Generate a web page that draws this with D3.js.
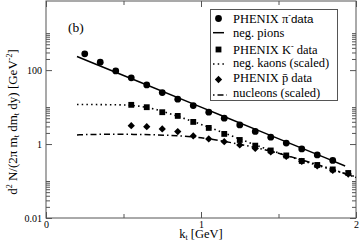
<!DOCTYPE html>
<html><head><meta charset="utf-8">
<script src="https://cdn.jsdelivr.net/npm/d3@7"></script>
<style>
html,body{margin:0;padding:0;background:#fff;}
svg{display:block;}
text{font-family:"Liberation Serif","Times New Roman",serif;fill:#000;}
</style></head>
<body>
<svg id="c" width="360" height="248"></svg>
<script>
// ---- data ----
const ktPion = [0.25,0.35,0.45,0.55,0.65,0.75,0.85,0.95,1.05,1.15,1.25,1.35,1.45,1.55,1.65,1.75,1.85];
const pionData = [275,164,95.3,61.7,39.8,24.7,16.3,11.0,7.27,5.0,3.30,2.20,1.53,1.06,0.738,0.507,0.361];
const ktHadron = [0.55,0.65,0.75,0.85,0.95,1.05,1.15,1.25,1.35,1.45,1.55,1.65,1.75,1.85,1.95];
const kaonData = [11.5,9.93,7.27,5.77,3.97,2.73,1.88,1.29,0.906,0.671,0.492,0.349,0.272,0.206,0.165];
const protonData = [3.15,2.96,2.57,2.17,1.66,1.38,1.16,0.946,0.76,0.612,0.462,0.339,0.256,0.193,0.155];
const ktPionModel = [0.2,0.6,1.0,1.4,1.8,1.93];
const pionModel = [233,48.3,10.0,2.07,0.43,0.256];
const ktKaonModel = [0.2,0.3,0.4,0.5,0.6,0.7,0.8,0.9,1.0,1.2,1.4,1.6,1.8,2.0];
const kaonModel = [11.7,11.7,11.6,11.4,10.6,8.8,6.6,4.8,3.4,1.65,0.80,0.42,0.23,0.13];
const ktNucleonModel = [0.2,0.4,0.6,0.8,1.0,1.2,1.4,1.6,1.8,2.0];
const nucleonModel = [1.77,1.84,1.82,1.71,1.48,1.08,0.72,0.43,0.24,0.125];
const xMajorTicks = [0,1,2];
const xMinorTicks = [0.5,1.5];
const yMajorTicks = [0.01,1,100];
const yMinorDecades = [0.01,1,100];

// ---- layout ----
const L=46, R=356, T=1, B=218;
const svg = d3.select("#c");
const x = d3.scaleLinear().domain([0,2]).range([L,R]);
const y = d3.scaleLog().domain([0.01,7400]).range([B,T]);
const yMinor = [];
yMinorDecades.forEach(d=>{ for(let m=2;m<=10;m++) yMinor.push(d*m); });
const frameCol = "#555";

function style(g){ g.select(".domain").remove(); g.selectAll(".tick line").attr("stroke",frameCol); g.selectAll("text").attr("font-size",10).attr("font-family","Liberation Serif"); }

// bottom
svg.append("g").attr("transform",`translate(0,${B})`)
  .call(d3.axisBottom(x).tickValues(xMajorTicks).tickFormat(d3.format("d")).tickSizeInner(-6).tickSizeOuter(0).tickPadding(3)).call(style);
svg.append("g").attr("transform",`translate(0,${B})`)
  .call(d3.axisBottom(x).tickValues(xMinorTicks).tickFormat("").tickSizeInner(-4).tickSizeOuter(0)).call(style);
// top
svg.append("g").attr("transform",`translate(0,${T})`)
  .call(d3.axisTop(x).tickValues(xMajorTicks).tickFormat("").tickSizeInner(-6).tickSizeOuter(0)).call(style);
svg.append("g").attr("transform",`translate(0,${T})`)
  .call(d3.axisTop(x).tickValues(xMinorTicks).tickFormat("").tickSizeInner(-4).tickSizeOuter(0)).call(style);
// left
svg.append("g").attr("transform",`translate(${L},0)`)
  .call(d3.axisLeft(y).tickValues(yMajorTicks).tickFormat(d=>d===0.01?"0.01":d3.format("d")(d)).tickSizeInner(-6).tickSizeOuter(0).tickPadding(4)).call(style);
svg.append("g").attr("transform",`translate(${L},0)`)
  .call(d3.axisLeft(y).tickValues(yMinor).tickFormat("").tickSizeInner(-4).tickSizeOuter(0)).call(style);
// right
svg.append("g").attr("transform",`translate(${R},0)`)
  .call(d3.axisRight(y).tickValues(yMajorTicks).tickFormat("").tickSizeInner(-6).tickSizeOuter(0)).call(style);
svg.append("g").attr("transform",`translate(${R},0)`)
  .call(d3.axisRight(y).tickValues(yMinor).tickFormat("").tickSizeInner(-4).tickSizeOuter(0)).call(style);

svg.append("rect").attr("x",L).attr("y",T).attr("width",R-L).attr("height",B-T)
  .attr("fill","none").attr("stroke",frameCol).attr("stroke-width",1);

// curves
const line = d3.line().x(d=>x(d[0])).y(d=>y(d[1])).curve(d3.curveMonotoneX);
const zip = (a,b)=>a.map((v,i)=>[v,b[i]]);
const plot = svg.append("g");
plot.append("path").datum(zip(ktPionModel,pionModel)).attr("d",line).attr("fill","none").attr("stroke","#000").attr("stroke-width",1.5);
plot.append("path").datum(zip(ktKaonModel,kaonModel)).attr("d",line).attr("fill","none").attr("stroke","#000").attr("stroke-width",1.6).attr("stroke-dasharray","1.5,3.2");
plot.append("path").datum(zip(ktNucleonModel,nucleonModel)).attr("d",line).attr("fill","none").attr("stroke","#000").attr("stroke-width",1.5).attr("stroke-dasharray","6,3,1.5,3");

// markers
const sym = {
  circle: d3.symbol().type(d3.symbolCircle).size(36),
  square: d3.symbol().type(d3.symbolSquare).size(34),
  diamond: d3.symbol().type(d3.symbolDiamond2).size(34)
};
plot.selectAll(".pi").data(zip(ktPion,pionData)).join("path")
  .attr("transform",d=>`translate(${x(d[0])},${y(d[1])})`).attr("d",sym.circle()).attr("fill","#000");
plot.selectAll(".k").data(zip(ktHadron,kaonData)).join("path")
  .attr("transform",d=>`translate(${x(d[0])},${y(d[1])})`).attr("d",sym.square()).attr("fill","#000");
plot.selectAll(".p").data(zip(ktHadron,protonData)).join("path")
  .attr("transform",d=>`translate(${x(d[0])},${y(d[1])})`).attr("d",sym.diamond()).attr("fill","#000");

// panel label
svg.append("text").attr("x",68).attr("y",31.5).attr("font-size",13.5).text("(b)");

// legend
const lg = svg.append("g");
lg.append("rect").attr("x",210.5).attr("y",9.5).attr("width",127).attr("height",91)
  .attr("fill","#fff").attr("stroke",frameCol).attr("stroke-width",1);
const rowY = [23,36.7,54,67,82,96.5];
const symY = [18.5,32.7,49.5,64,79.5,95];
const tx = 233;
lg.append("path").attr("transform",`translate(218.5,${symY[0]})`).attr("d",sym.circle()).attr("fill","#000");
lg.append("line").attr("x1",213).attr("x2",224).attr("y1",symY[1]).attr("y2",symY[1]).attr("stroke","#000").attr("stroke-width",1.5);
lg.append("path").attr("transform",`translate(218.5,${symY[2]})`).attr("d",sym.square()).attr("fill","#000");
lg.append("line").attr("x1",213).attr("x2",226).attr("y1",symY[3]).attr("y2",symY[3]).attr("stroke","#000").attr("stroke-width",1.6).attr("stroke-dasharray","1.5,3.2");
lg.append("path").attr("transform",`translate(218.5,${symY[4]})`).attr("d",sym.diamond()).attr("fill","#000");
lg.append("line").attr("x1",213).attr("x2",227).attr("y1",symY[5]).attr("y2",symY[5]).attr("stroke","#000").attr("stroke-width",1.5).attr("stroke-dasharray","1.5,3,6,3");

function legText(i, parts){
  const t = lg.append("text").attr("x",tx).attr("y",rowY[i]).attr("font-size",12.5);
  parts.forEach(p=>{
    const s = t.append("tspan").text(p.t);
    if(p.sup){ s.attr("font-size",8).attr("dy",-5); }
    if(p.down){ s.attr("dy",5); }
    if(p.sans){ s.attr("font-family","Liberation Sans").attr("font-size",11.5); }
  });
  return t;
}
legText(0,[{t:"PHENIX π"},{t:"-",sup:true},{t:"data",down:true,sans:true}]);
legText(1,[{t:"neg. pions"}]);
legText(2,[{t:"PHENIX K"},{t:"-",sup:true},{t:" data",down:true}]);
legText(3,[{t:"neg. kaons (scaled)"}]);
legText(4,[{t:"PHENIX p\u0304 data"}]);
legText(5,[{t:"nucleons (scaled)"}]);

// axis titles
const xt = svg.append("text").attr("x",201).attr("y",237.5).attr("text-anchor","middle").attr("font-size",12.5);
xt.append("tspan").text("k");
xt.append("tspan").text("t").attr("font-size",8).attr("dy",2.5);
xt.append("tspan").text(" [GeV]").attr("dy",-2.5);

const yt = svg.append("text").attr("transform","translate(16.5,122) rotate(-90)").attr("text-anchor","middle").attr("font-size",13);
yt.append("tspan").text("d");
yt.append("tspan").text("2").attr("font-size",8).attr("dy",-5);
yt.append("tspan").text(" N/(2π m").attr("dy",5);
yt.append("tspan").text("t").attr("font-size",8).attr("dy",2.5);
yt.append("tspan").text(" dm").attr("dy",-2.5);
yt.append("tspan").text("t").attr("font-size",8).attr("dy",2.5);
yt.append("tspan").text(" dy) [GeV").attr("dy",-2.5);
yt.append("tspan").text("-2").attr("font-size",8).attr("dy",-5);
yt.append("tspan").text("]").attr("dy",5);
</script>
</body></html>
